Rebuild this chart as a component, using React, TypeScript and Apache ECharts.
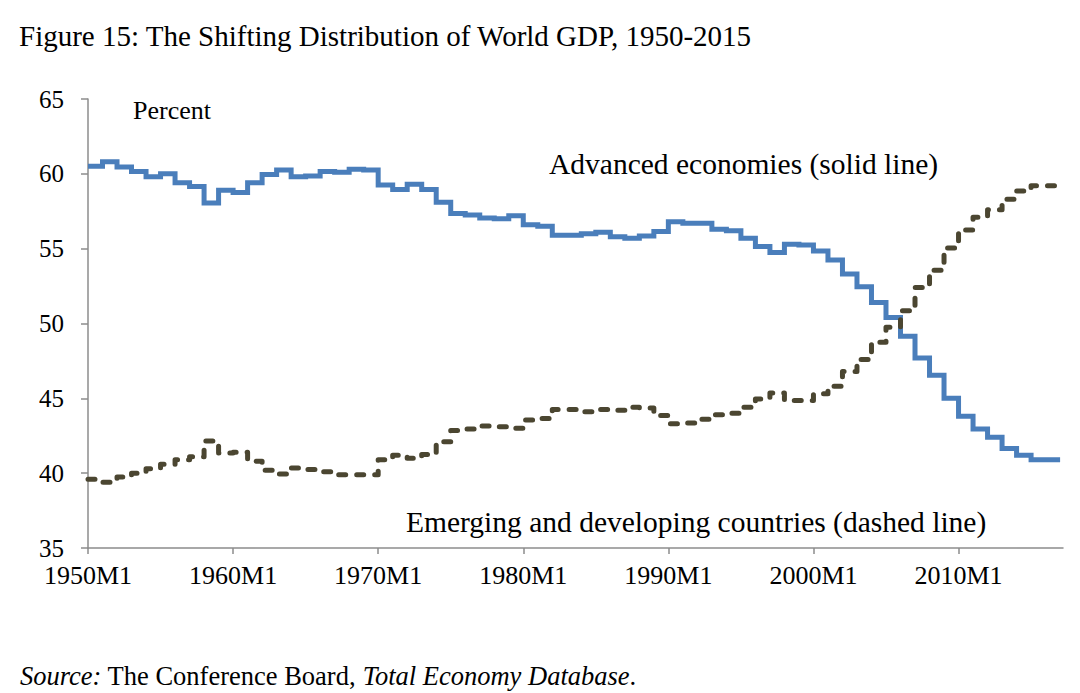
import { useEffect, useRef } from "react";
import * as echarts from "echarts";

const START_YEAR = 1950;

// Annual shares of world GDP (percent), 1950-2016
const advanced = [
  60.5, 60.8, 60.45, 60.15, 59.8, 60.0, 59.4, 59.15, 58.05, 58.9,
  58.75, 59.4, 59.95, 60.25, 59.8, 59.85, 60.15, 60.1, 60.3, 60.25,
  59.25, 58.95, 59.3, 58.95, 58.1, 57.35, 57.25, 57.05, 57.0, 57.2,
  56.6, 56.5, 55.9, 55.9, 56.0, 56.1, 55.8, 55.7, 55.85, 56.15,
  56.8, 56.7, 56.7, 56.3, 56.2, 55.7, 55.15, 54.75, 55.3, 55.25,
  54.85, 54.25, 53.3, 52.45, 51.4, 50.4, 49.15, 47.7, 46.55, 45.0,
  43.8, 42.95, 42.4, 41.65, 41.2, 40.9, 40.9,
];

const emerging = [
  39.6, 39.4, 39.75, 40.0, 40.3, 40.6, 40.9, 41.1, 42.15, 41.35,
  41.4, 40.8, 40.2, 39.95, 40.35, 40.25, 40.1, 39.9, 39.9, 39.9,
  40.9, 41.2, 41.0, 41.25, 42.1, 42.85, 42.95, 43.15, 43.1, 43.0,
  43.55, 43.65, 44.25, 44.25, 44.1, 44.25, 44.2, 44.4, 44.35, 43.85,
  43.3, 43.35, 43.6, 43.9, 44.0, 44.4, 44.95, 45.35, 44.85, 44.85,
  45.3, 45.8, 46.8, 47.6, 48.75, 49.75, 50.85, 52.4, 53.55, 55.05,
  56.25, 57.1, 57.6, 58.3, 58.85, 59.2, 59.2,
];

const xTickYears = [1950, 1960, 1970, 1980, 1990, 2000, 2010];
const xTickSuffix = "M1";
const yMin = 35;
const yMax = 65;
const yStep = 5;

const TITLE = "Figure 15: The Shifting Distribution of World GDP, 1950-2015";
const Y_UNIT = "Percent";
const ADV_LABEL = "Advanced economies (solid line)";
const EME_LABEL = "Emerging and developing countries (dashed line)";

const SERIF = "'Liberation Serif', 'Times New Roman', Times, serif";

function toSteps(vals: number[]): number[][] {
  const pts = vals.map((v, i) => [START_YEAR + i, v]);
  pts.push([START_YEAR + vals.length, vals[vals.length - 1]]);
  return pts;
}

export default function App() {
  const ref = useRef<HTMLDivElement>(null);

  useEffect(() => {
    if (!ref.current) return;
    const chart = echarts.init(ref.current, undefined, { renderer: "svg" });
    const axisGray = "#8c8c8c";
    chart.setOption({
      animation: false,
      backgroundColor: "#ffffff",
      grid: { left: 88, right: 17, top: 99, bottom: 145, containLabel: false },
      xAxis: {
        type: "value",
        min: 1950,
        max: 2017.2,
        interval: 10,
        splitLine: { show: false },
        axisLine: { show: true, lineStyle: { color: axisGray, width: 1.5 } },
        axisTick: {
          show: true,
          inside: false,
          length: 6,
          customValues: xTickYears,
          lineStyle: { color: axisGray, width: 1.5 },
        },
        axisLabel: {
          customValues: xTickYears,
          formatter: (v: number) => `${v}${xTickSuffix}`,
          color: "#000",
          fontFamily: SERIF,
          fontSize: 26,
          margin: 14,
        },
      },
      yAxis: {
        type: "value",
        min: yMin,
        max: yMax,
        interval: yStep,
        splitLine: { show: false },
        axisLine: { show: true, lineStyle: { color: axisGray, width: 1.5 } },
        axisTick: { show: true, inside: false, length: 7, lineStyle: { color: axisGray, width: 1.5 } },
        axisLabel: {
          color: "#000",
          fontFamily: SERIF,
          fontSize: 25,
          margin: 24,
        },
      },
      series: [
        {
          name: "Advanced economies",
          type: "line",
          step: "end",
          symbol: "none",
          data: toSteps(advanced),
          lineStyle: { color: "#4a7ebb", width: 5, cap: "butt", join: "miter" },
          z: 2,
        },
        {
          name: "Emerging and developing countries",
          type: "line",
          step: "end",
          symbol: "none",
          data: toSteps(emerging),
          lineStyle: { color: "#4b4631", width: 5, type: [7, 11], cap: "round", join: "round" },
          z: 3,
        },
      ],
      graphic: [
        {
          type: "text",
          x: 19,
          y: 36,
          style: { text: TITLE, fill: "#000", font: `29px ${SERIF}`, align: "left", verticalAlign: "middle" },
        },
        {
          type: "text",
          x: 133,
          y: 110,
          style: { text: Y_UNIT, fill: "#000", font: `26px ${SERIF}`, align: "left", verticalAlign: "middle" },
        },
        {
          type: "text",
          x: 549,
          y: 164,
          style: { text: ADV_LABEL, fill: "#000", font: `29.5px ${SERIF}`, align: "left", verticalAlign: "middle" },
        },
        {
          type: "text",
          x: 406,
          y: 522,
          style: { text: EME_LABEL, fill: "#000", font: `29.5px ${SERIF}`, align: "left", verticalAlign: "middle" },
        },
        {
          type: "text",
          x: 20,
          y: 676,
          style: {
            text: "{i|Source:} The Conference Board, {i|Total Economy Database}.",
            fill: "#000",
            font: `26.5px ${SERIF}`,
            align: "left",
            verticalAlign: "middle",
            rich: {
              i: { fontStyle: "italic", fontFamily: SERIF, fontSize: 26.5, fill: "#000" },
            },
          },
        },
      ],
    });
    return () => chart.dispose();
  }, []);

  return (
    <div
      ref={ref}
      style={{ position: "fixed", left: 0, top: 0, width: 1080, height: 693, background: "#fff" }}
    />
  );
}
